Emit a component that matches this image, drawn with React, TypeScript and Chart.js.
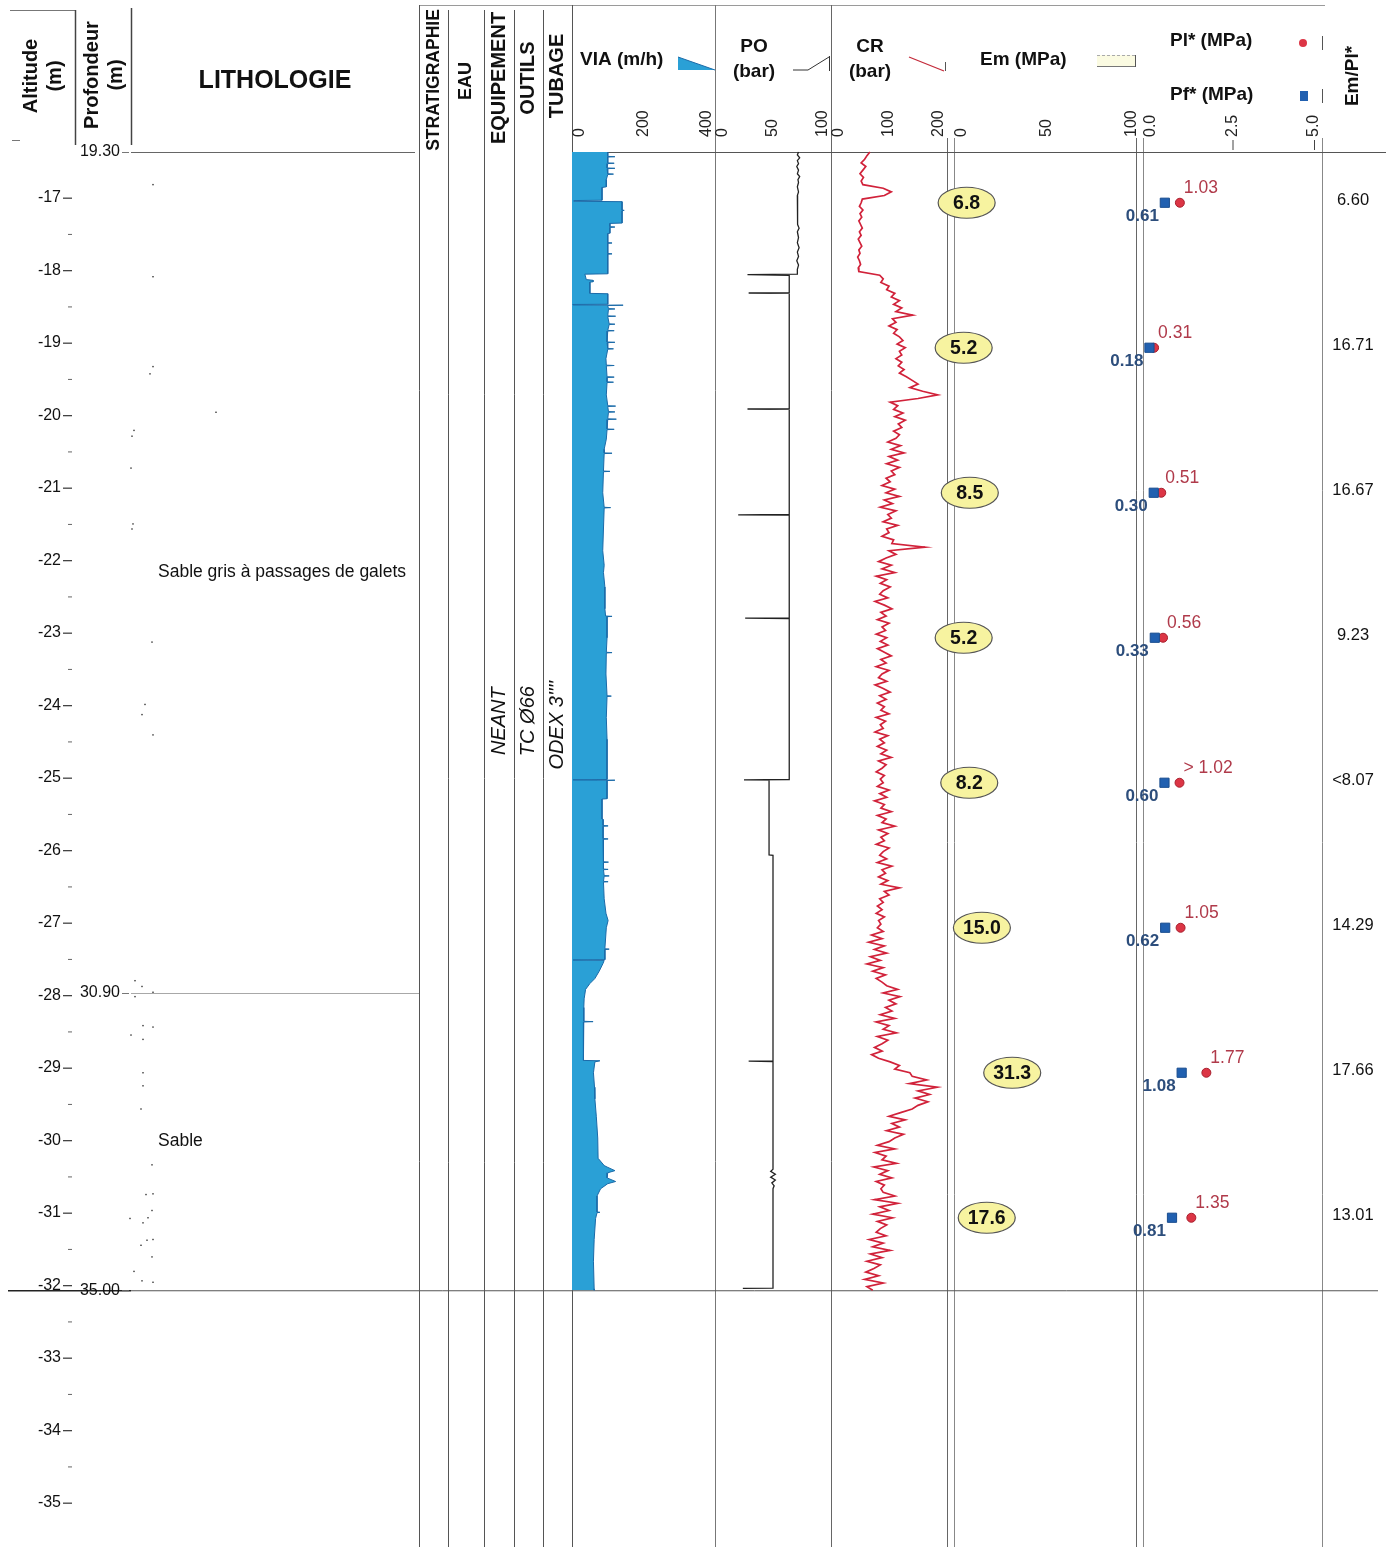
import { useEffect, useRef } from 'react';
import { Chart, registerables } from 'chart.js';

Chart.register(...registerables);

const W = 1388;
const H = 1547;
const FONT = '"Liberation Sans", Arial, sans-serif';

// Borehole depth frame (m)
const DEPTH_TOP = 19.3;
const DEPTH_BASE = 35.0;
const HEAD_ALTITUDE = 2.93;
const TOP_PX = 152;
const PX_PER_M = 72.5;

const ALTITUDE_TICKS = [-17, -18, -19, -20, -21, -22, -23, -24, -25, -26, -27, -28, -29, -30, -31, -32, -33, -34, -35];
const DEPTH_MARKS = [19.3, 30.9, 35.0];

// Lithology
const LAYER_TOP = [19.3, 30.9];
const LAYER_BASE = [30.9, 35.0];
const LAYER_NAME = ['Sable gris à passages de galets', 'Sable'];
const SAND_DOT_DEPTH = [19.75, 21.02, 22.26, 22.36, 22.89, 23.14, 23.22, 23.66, 24.43, 24.5, 26.06, 26.92, 27.06, 27.34, 30.73, 30.81, 30.89, 30.95, 31.35, 31.37, 31.48, 31.54, 32.0, 32.18, 32.5, 33.27, 33.68, 33.67, 33.9, 34.01, 34.07, 34.0, 34.3, 34.31, 34.38, 34.54, 34.74, 34.87, 34.89];
const SAND_DOT_X = [153, 153, 153, 150, 216, 134, 132, 131, 133, 132, 152, 145, 142, 153, 135, 142, 153, 135, 143, 153, 131, 143, 143, 143, 141, 152, 146, 153, 152, 130, 143, 148, 153, 147, 141, 152, 134, 142, 153];

// Drilling parameters
const VIA_DEPTH = [19.3, 19.36, 19.365, 19.37, 19.45, 19.455, 19.46, 19.52, 19.525, 19.53, 19.6, 19.605, 19.61, 19.68, 19.78, 19.79, 19.965, 19.97, 19.98, 19.985, 20.1, 20.105, 20.11, 20.28, 20.285, 20.33, 20.335, 20.34, 20.42, 20.425, 20.55, 20.555, 20.56, 20.7, 20.705, 20.71, 20.98, 20.985, 21.06, 21.07, 21.09, 21.095, 21.25, 21.255, 21.4, 21.403, 21.41, 21.413, 21.418, 21.46, 21.465, 21.47, 21.56, 21.565, 21.57, 21.67, 21.675, 21.68, 21.76, 21.765, 21.77, 21.92, 21.925, 21.93, 22.01, 22.015, 22.02, 22.15, 22.24, 22.245, 22.25, 22.4, 22.405, 22.41, 22.47, 22.475, 22.48, 22.65, 22.8, 22.805, 22.81, 22.88, 22.885, 22.89, 22.98, 22.985, 22.99, 23.12, 23.125, 23.13, 23.26, 23.4, 23.45, 23.455, 23.46, 23.7, 23.705, 23.71, 24.0, 24.2, 24.205, 24.21, 24.5, 24.8, 25.0, 25.1, 25.3, 25.6, 25.7, 25.705, 25.71, 26.0, 26.2, 26.205, 26.21, 26.5, 26.8, 26.805, 26.81, 27.1, 27.4, 27.87, 27.955, 27.96, 27.965, 27.97, 28.22, 28.225, 28.5, 28.505, 28.59, 28.595, 28.6, 28.77, 28.775, 28.78, 29.09, 29.095, 29.1, 29.19, 29.195, 29.2, 29.28, 29.285, 29.29, 29.36, 29.365, 29.37, 29.6, 29.8, 29.9, 30.0, 30.29, 30.295, 30.3, 30.44, 30.445, 30.45, 30.49, 30.6, 30.7, 30.77, 30.85, 30.98, 31.1, 31.29, 31.295, 31.3, 31.6, 31.83, 31.835, 31.85, 32.0, 32.2, 32.36, 32.6, 32.9, 33.18, 33.28, 33.3, 33.35, 33.38, 33.45, 33.5, 33.53, 33.6, 33.7, 33.92, 33.925, 33.93, 34.01, 34.3, 34.6, 34.98, 35.0];
const VIA_RATE = [100, 100, 120, 100, 100, 118, 100, 98, 120, 98, 100, 116, 100, 96, 96, 84, 84, 6, 6, 140, 140, 146, 140, 140, 106, 106, 120, 106, 106, 100, 100, 112, 100, 100, 112, 100, 100, 36, 40, 59, 59, 50, 50, 100, 100, 3, 3, 143, 100, 102, 120, 102, 100, 122, 100, 104, 120, 104, 100, 118, 100, 98, 120, 98, 100, 116, 100, 95, 96, 118, 96, 98, 118, 98, 98, 116, 98, 96, 100, 122, 100, 102, 120, 102, 100, 124, 100, 98, 118, 98, 96, 90, 90, 112, 90, 88, 106, 88, 86, 90, 108, 90, 88, 86, 90, 88, 92, 92, 94, 112, 98, 98, 96, 112, 96, 95, 98, 110, 98, 96, 98, 98, 98, 3, 120, 98, 98, 84, 84, 87, 87, 101, 87, 87, 101, 87, 88, 102, 88, 88, 101, 88, 90, 104, 90, 88, 101, 88, 90, 95, 101, 96, 92, 104, 92, 92, 3, 90, 87, 76, 64, 50, 38, 34, 33, 33, 59, 33, 32, 32, 78, 64, 60, 63, 64, 68, 72, 73, 90, 98, 120, 100, 98, 122, 100, 80, 70, 70, 78, 70, 66, 62, 60, 62, 62];

const PO_DEPTH = [19.3, 19.34, 19.38, 19.42, 19.46, 19.5, 19.55, 19.6, 19.64, 19.68, 19.72, 19.78, 19.85, 19.9, 19.95, 20.0, 20.1, 20.2, 20.3, 20.35, 20.4, 20.48, 20.55, 20.62, 20.68, 20.74, 20.8, 20.86, 20.92, 20.985, 20.99, 21.0, 21.24, 21.245, 21.25, 22.84, 22.845, 22.85, 24.3, 24.305, 24.31, 25.725, 25.73, 25.735, 27.955, 27.96, 27.965, 28.995, 29.0, 31.835, 31.84, 31.845, 33.33, 33.36, 33.4, 33.44, 33.48, 33.52, 33.56, 33.6, 34.97, 34.975];
const PO_BAR = [72, 71, 73, 71, 72, 70.5, 72, 71, 73, 71.5, 72, 71, 72, 71, 71.5, 71, 71, 71, 71.5, 72.5, 71, 72, 71, 72.5, 71, 72, 70.5, 72, 71, 71, 28, 64, 64, 29, 64, 64, 28, 64, 64, 20, 64, 64, 26, 64, 64, 25, 46.6, 46.6, 50, 50, 29, 50, 50, 48, 52, 48, 52, 49, 51, 50, 50, 24];

// Torque pressure, one reading every 5 cm from 19.30 m
const CR_STEP = 0.05;
const CR_BAR = [
  67, 62, 58, 52, 60, 55, 50, 56, 52,
  55, 90, 104, 92,
  54,
  52, 49, 55, 50, 53, 48, 51, 54, 49, 52, 47, 50, 53, 48, 50, 46, 49, 51, 47, 48,
  84,
  90, 86, 100,
  96, 110, 104, 118, 108, 122, 112, 141,
  106, 112, 100, 114, 108, 118,
  124, 114, 128, 118, 122,
  112, 122, 116, 126, 118, 130,
  140, 150, 136, 158, 184, 150,
  102, 115, 108,
  124, 110, 128, 116, 122, 108, 118,
  112, 98, 120, 104, 126, 100, 115, 96, 118, 104, 110, 95,
  102, 88, 110, 95, 118, 92, 106, 85, 112, 98, 104, 90, 115, 96, 100, 88, 108,
  105, 162, 100, 112,
  95, 82, 104, 88, 110, 78, 96, 85, 102, 90, 84, 98, 76, 92, 105, 86, 95, 80, 100, 88, 94, 78, 96,
  85, 98, 80, 92, 104, 86, 95, 78, 100, 88, 82, 96, 76, 90, 102, 84, 95, 80, 92, 86,
  100, 78, 94, 85, 90, 76, 98, 84, 92, 80, 96, 86, 104, 82, 95, 88, 78, 92, 85,
  90, 80, 100, 84, 96, 75, 92, 86, 104, 80, 95, 88, 110, 82, 98, 86, 92, 78, 100, 90,
  84, 96, 80, 105, 88, 94, 82, 98, 86, 118, 92, 100,
  84, 90, 80, 88, 78, 92, 82, 86, 80, 90,
  70, 88, 65, 92, 75, 96, 68, 85, 62, 90, 72, 94, 78, 88,
  96, 115, 90, 119, 100, 112, 94,
  105, 85, 110, 78, 100, 90, 113, 80, 98, 88,
  75, 88, 70, 82,
  102, 118, 110, 136,
  140, 165, 135, 183, 150, 170, 145,
  167, 150, 140,
  120, 100, 128, 105, 118, 96, 125, 110,
  100, 80, 110, 76, 95, 88, 113, 74, 98, 84, 105, 78, 92, 86,
  90, 110, 75, 115, 84, 100, 72, 106, 80, 96, 85,
  78, 95, 66, 90, 72, 102, 68, 88, 62, 85, 74,
  60, 82, 58, 90, 62, 72,
];

// Pressuremeter tests
const TEST_DEPTH = [20, 22, 24, 26, 28, 30, 32, 34];
const EM_MPA = [6.8, 5.2, 8.5, 5.2, 8.2, 15.0, 31.3, 17.6];
const PL_MPA = [1.03, 0.31, 0.51, 0.56, 1.02, 1.05, 1.77, 1.35];
const PL_PREFIX = ['', '', '', '', '> ', '', '', ''];
const PF_MPA = [0.61, 0.18, 0.3, 0.33, 0.6, 0.62, 1.08, 0.81];
const EM_PL = ['6.60', '16.71', '16.67', '9.23', '<8.07', '14.29', '17.66', '13.01'];

// Track tick labels
const VIA_TICKS = [0, 200, 400];
const PO_TICKS = [0, 50, 100];
const CR_TICKS = [0, 100, 200];
const EM_TICKS = [0, 50, 100];
const PL_TICKS = [0, 2.5, 5];

// Track placement on the sheet (pixels) and value range of each track
const TRACKS: Record<string, { left: number; right: number; min: number; max: number }> = {
  xVia: { left: 572, right: 715, min: 0, max: 400 },
  xPo: { left: 715, right: 831, min: 0, max: 100 },
  xCr: { left: 831, right: 947, min: 0, max: 200 },
  xEm: { left: 954, right: 1140, min: 0, max: 100 },
  xPl: { left: 1143, right: 1322, min: 0, max: 5 },
};

function trackScale(id: string) {
  const t = TRACKS[id];
  const k = (t.right - t.left) / (t.max - t.min);
  return {
    type: 'linear' as const,
    axis: 'x' as const,
    display: false,
    min: t.min - t.left / k,
    max: t.min + (W - t.left) / k,
  };
}

function seg(ctx: CanvasRenderingContext2D, x1: number, y1: number, x2: number, y2: number, color = '#555', width = 1, dash: number[] = []) {
  ctx.save();
  ctx.strokeStyle = color;
  ctx.lineWidth = width;
  ctx.setLineDash(dash);
  ctx.beginPath();
  ctx.moveTo(x1, y1);
  ctx.lineTo(x2, y2);
  ctx.stroke();
  ctx.restore();
}

function label(
  ctx: CanvasRenderingContext2D,
  s: string,
  x: number,
  y: number,
  font: string,
  color = '#111',
  align: CanvasTextAlign = 'left',
  rot = 0,
) {
  ctx.save();
  ctx.font = font;
  ctx.fillStyle = color;
  ctx.textAlign = align;
  ctx.textBaseline = 'middle';
  ctx.translate(x, y);
  if (rot) ctx.rotate(rot);
  ctx.fillText(s, 0, 0);
  ctx.restore();
}

const UP = -Math.PI / 2;

function drawFrame(chart: Chart) {
  const ctx = chart.ctx;
  const y = chart.scales.y;
  const yTop = y.getPixelForValue(DEPTH_TOP);
  const yBase = y.getPixelForValue(DEPTH_BASE);

  // header boxes of the left columns
  seg(ctx, 10, 10.5, 75, 10.5, '#777');
  seg(ctx, 12, 140.5, 20, 140.5, '#777');
  seg(ctx, 75.5, 10, 75.5, 145, '#444', 1.5);
  seg(ctx, 131.5, 8, 131.5, 145, '#444', 1.5);
  seg(ctx, 419, 5.5, 1325, 5.5, '#9a9a9a');

  // column separators
  const full: [number, number, string][] = [
    [419.5, 5, '#555'],
    [448.5, 10, '#555'],
    [484.5, 10, '#555'],
    [514.5, 10, '#555'],
    [543.5, 10, '#555'],
    [572.5, 5, '#555'],
    [715.5, 5, '#777'],
    [831.5, 5, '#666'],
    [947.5, 138, '#666'],
    [954.5, 138, '#888'],
    [1136.5, 138, '#666'],
    [1143.5, 138, '#888'],
    [1322.5, 138, '#888'],
  ];
  full.forEach(([x, y0, c]) => seg(ctx, x, y0, x, H, c, 1));
  seg(ctx, 1322.5, 36, 1322.5, 50, '#555');
  seg(ctx, 1322.5, 89, 1322.5, 103, '#555');

  // layer boundaries
  seg(ctx, 131, yTop + 0.5, 415, yTop + 0.5, '#666');
  seg(ctx, 572, yTop + 0.5, 1386, yTop + 0.5, '#555');
  LAYER_TOP.forEach((d, i) => {
    if (i === 0) return;
    const py = y.getPixelForValue(d) + 0.5;
    seg(ctx, 131, py, 419, py, '#a8a8a8');
  });
  seg(ctx, 8, yBase + 0.5, 131, yBase + 0.5, '#222', 1.3);
  seg(ctx, 131, yBase + 0.5, 1378, yBase + 0.5, '#555', 1);

  // sand pattern dots
  ctx.save();
  ctx.fillStyle = '#333';
  SAND_DOT_DEPTH.forEach((d, i) => {
    ctx.fillRect(SAND_DOT_X[i] - 0.7, y.getPixelForValue(d) - 0.7, 1.4, 1.4);
  });
  ctx.restore();
}

function drawText(chart: Chart) {
  const ctx = chart.ctx;
  const y = chart.scales.y;
  const head = `bold 20px ${FONT}`;
  const track = `bold 19px ${FONT}`;

  // left column headers
  label(ctx, 'Altitude', 31, 76, head, '#111', 'center', UP);
  label(ctx, '(m)', 55, 76, head, '#111', 'center', UP);
  label(ctx, 'Profondeur', 92, 75, head, '#111', 'center', UP);
  label(ctx, '(m)', 116, 75, head, '#111', 'center', UP);
  label(ctx, 'LITHOLOGIE', 275, 81, `bold 25px ${FONT}`, '#111', 'center');
  label(ctx, 'STRATIGRAPHIE', 434, 80, `bold 17.5px ${FONT}`, '#111', 'center', UP);
  label(ctx, 'EAU', 466, 81, `bold 18px ${FONT}`, '#111', 'center', UP);
  label(ctx, 'EQUIPEMENT', 499, 78, head, '#111', 'center', UP);
  label(ctx, 'OUTILS', 528, 78, head, '#111', 'center', UP);
  label(ctx, 'TUBAGE', 557, 76, head, '#111', 'center', UP);

  // track headers
  label(ctx, 'VIA (m/h)', 580, 60, track);
  label(ctx, 'PO', 754, 47, track, '#111', 'center');
  label(ctx, '(bar)', 754, 72, track, '#111', 'center');
  label(ctx, 'CR', 870, 47, track, '#111', 'center');
  label(ctx, '(bar)', 870, 72, track, '#111', 'center');
  label(ctx, 'Em (MPa)', 980, 60, track);
  label(ctx, 'Pl* (MPa)', 1170, 41, track);
  label(ctx, 'Pf* (MPa)', 1170, 95, track);
  label(ctx, 'Em/Pl*', 1353, 76, track, '#111', 'center', UP);

  // header legend keys
  ctx.save();
  ctx.fillStyle = '#2aa0d6';
  ctx.beginPath();
  ctx.moveTo(678, 57);
  ctx.lineTo(715, 70);
  ctx.lineTo(678, 70);
  ctx.closePath();
  ctx.fill();
  ctx.restore();
  seg(ctx, 678, 57, 715, 70, '#1b6aa8', 1);
  seg(ctx, 793, 70, 808, 70, '#333', 1);
  seg(ctx, 808, 70, 829, 57, '#333', 1);
  seg(ctx, 829.5, 56, 829.5, 71, '#333', 1);
  seg(ctx, 909, 57, 944, 71, '#c42a3a', 1.3);
  seg(ctx, 945.5, 62, 945.5, 71, '#555', 1);
  ctx.save();
  ctx.fillStyle = '#fbfbe2';
  ctx.fillRect(1097, 55, 38, 12);
  ctx.restore();
  seg(ctx, 1097, 55.5, 1135, 55.5, '#aaa', 1, [3, 2]);
  seg(ctx, 1097, 66.5, 1135, 66.5, '#777', 1);
  seg(ctx, 1135.5, 55, 1135.5, 67, '#555', 1);
  ctx.save();
  ctx.fillStyle = '#dc3545';
  ctx.beginPath();
  ctx.arc(1303, 43, 4, 0, Math.PI * 2);
  ctx.fill();
  ctx.fillStyle = '#2160b0';
  ctx.fillRect(1300, 91, 8, 10);
  ctx.restore();

  // track tick labels
  const tickFont = `16px ${FONT}`;
  const trackTicks = (id: string, ticks: number[], digits: number) => {
    const sc = chart.scales[id];
    ticks.forEach((v, i) => {
      let x = sc.getPixelForValue(v);
      if (i === 0) x += 8;
      else if (i === ticks.length - 1) x -= 8;
      label(ctx, v.toFixed(digits), x, 137, tickFont, '#222', 'left', UP);
      if (id === 'xPl' && i > 0) seg(ctx, x + 0.5, 140, x + 0.5, 150, '#444', 1);
    });
  };
  trackTicks('xVia', VIA_TICKS, 0);
  trackTicks('xPo', PO_TICKS, 0);
  trackTicks('xCr', CR_TICKS, 0);
  trackTicks('xEm', EM_TICKS, 0);
  trackTicks('xPl', PL_TICKS, 1);

  // altitude scale
  const altFont = `16px ${FONT}`;
  ALTITUDE_TICKS.forEach((a) => {
    const py = y.getPixelForValue(HEAD_ALTITUDE - a);
    label(ctx, String(a), 61, py, altFont, '#111', 'right');
    seg(ctx, 63, py + 0.5, 72, py + 0.5, '#333', 1.2);
    const pm = y.getPixelForValue(HEAD_ALTITUDE - a + 0.5);
    if (HEAD_ALTITUDE - a + 0.5 < 38.3) seg(ctx, 68, pm + 0.5, 72, pm + 0.5, '#666', 1);
  });

  // depth marks
  DEPTH_MARKS.forEach((d) => {
    const py = y.getPixelForValue(d);
    label(ctx, d.toFixed(2), 120, py, altFont, '#111', 'right');
    seg(ctx, 122, py + 0.5, 129, py + 0.5, '#777', 1);
  });

  // lithology description
  LAYER_NAME.forEach((name, i) => {
    const py = y.getPixelForValue((LAYER_TOP[i] + LAYER_BASE[i]) / 2);
    label(ctx, name, 158, py, `17.5px ${FONT}`, '#111');
  });

  // equipment column notes
  const mid = y.getPixelForValue((DEPTH_TOP + DEPTH_BASE) / 2);
  const ital = `italic 20px ${FONT}`;
  label(ctx, 'NEANT', 499, mid, ital, '#111', 'center', UP);
  label(ctx, 'TC Ø66', 528, mid, ital, '#111', 'center', UP);
  label(ctx, "ODEX 3''''", 557, mid + 4, ital, '#111', 'center', UP);

  // Em ellipses
  const em = chart.getDatasetMeta(3);
  em.data.forEach((pt: any, i: number) => {
    ctx.save();
    ctx.beginPath();
    ctx.ellipse(pt.x, pt.y, 28.5, 15.5, 0, 0, Math.PI * 2);
    ctx.fillStyle = '#f7f3a0';
    ctx.fill();
    ctx.strokeStyle = '#555';
    ctx.lineWidth = 1.2;
    ctx.stroke();
    ctx.restore();
    label(ctx, EM_MPA[i].toFixed(1), pt.x, pt.y + 1, `bold 19.5px ${FONT}`, '#111', 'center');
  });

  // Pl* / Pf* values
  const pl = chart.getDatasetMeta(4);
  pl.data.forEach((pt: any, i: number) => {
    label(ctx, PL_PREFIX[i] + PL_MPA[i].toFixed(2), pt.x + 4, pt.y - 15, `17.5px ${FONT}`, '#b03a4a');
  });
  const pf = chart.getDatasetMeta(5);
  pf.data.forEach((pt: any, i: number) => {
    label(ctx, PF_MPA[i].toFixed(2), pt.x - 6, pt.y + 14, `bold 17px ${FONT}`, '#2d4e7c', 'right');
  });

  // Em/Pl* ratio
  TEST_DEPTH.forEach((d, i) => {
    label(ctx, EM_PL[i], 1353, y.getPixelForValue(d) - 2, `16.5px ${FONT}`, '#111', 'center');
  });
}

const logSheet = {
  id: 'logSheet',
  beforeDatasetsDraw(chart: Chart) {
    drawFrame(chart);
  },
  afterDatasetsDraw(chart: Chart) {
    drawText(chart);
  },
};

export default function App() {
  const ref = useRef<HTMLCanvasElement>(null);

  useEffect(() => {
    const canvas = ref.current;
    if (!canvas) return;
    const viaData = VIA_DEPTH.map((d, i) => ({ x: VIA_RATE[i], y: d }));
    const poData = PO_DEPTH.map((d, i) => ({ x: PO_BAR[i], y: d }));
    const crData = CR_BAR.map((v, i) => ({ x: v, y: DEPTH_TOP + i * CR_STEP }));
    const emData = TEST_DEPTH.map((d, i) => ({ x: EM_MPA[i], y: d }));
    const plData = TEST_DEPTH.map((d, i) => ({ x: PL_MPA[i], y: d }));
    const pfData = TEST_DEPTH.map((d, i) => ({ x: PF_MPA[i], y: d }));

    const chart = new Chart(canvas, {
      type: 'line',
      data: {
        datasets: [
          {
            type: 'line',
            label: 'VIA (m/h)',
            indexAxis: 'y',
            xAxisID: 'xVia',
            yAxisID: 'y',
            data: viaData,
            borderColor: '#1b6aa8',
            borderWidth: 1,
            backgroundColor: '#2aa0d6',
            fill: 'origin',
            pointRadius: 0,
            tension: 0,
            order: 6,
          },
          {
            type: 'line',
            label: 'PO (bar)',
            indexAxis: 'y',
            xAxisID: 'xPo',
            yAxisID: 'y',
            data: poData,
            borderColor: '#222',
            borderWidth: 1.3,
            fill: false,
            pointRadius: 0,
            tension: 0,
            order: 5,
          },
          {
            type: 'line',
            label: 'CR (bar)',
            indexAxis: 'y',
            xAxisID: 'xCr',
            yAxisID: 'y',
            data: crData,
            borderColor: '#d1223a',
            borderWidth: 1.7,
            fill: false,
            pointRadius: 0,
            tension: 0,
            order: 4,
          },
          {
            type: 'scatter',
            label: 'Em (MPa)',
            xAxisID: 'xEm',
            yAxisID: 'y',
            data: emData,
            pointRadius: 0,
            order: 3,
          },
          {
            type: 'scatter',
            label: 'Pl* (MPa)',
            xAxisID: 'xPl',
            yAxisID: 'y',
            data: plData,
            pointStyle: 'circle',
            pointRadius: 4.5,
            backgroundColor: '#dc3545',
            borderColor: '#a8202e',
            borderWidth: 1,
            order: 2,
          },
          {
            type: 'scatter',
            label: 'Pf* (MPa)',
            xAxisID: 'xPl',
            yAxisID: 'y',
            data: pfData,
            pointStyle: 'rect',
            pointRadius: 6.5,
            backgroundColor: '#2160b0',
            borderColor: '#1a4d8f',
            borderWidth: 1,
            order: 1,
          },
        ],
      } as any,
      options: {
        responsive: false,
        maintainAspectRatio: false,
        animation: false,
        devicePixelRatio: 1,
        events: [],
        indexAxis: 'y',
        layout: { padding: 0, autoPadding: false },
        plugins: { legend: { display: false }, tooltip: { enabled: false } },
        scales: {
          y: {
            type: 'linear',
            axis: 'y',
            display: false,
            reverse: true,
            min: DEPTH_TOP - TOP_PX / PX_PER_M,
            max: DEPTH_TOP + (H - TOP_PX) / PX_PER_M,
          },
          xVia: trackScale('xVia'),
          xPo: trackScale('xPo'),
          xCr: trackScale('xCr'),
          xEm: trackScale('xEm'),
          xPl: trackScale('xPl'),
        },
      } as any,
      plugins: [logSheet],
    });
    return () => chart.destroy();
  }, []);

  return (
    <div style={{ position: 'absolute', left: 0, top: 0, width: W, height: H, background: '#fff' }}>
      <canvas ref={ref} width={W} height={H} style={{ display: 'block', width: W, height: H }} />
    </div>
  );
}
